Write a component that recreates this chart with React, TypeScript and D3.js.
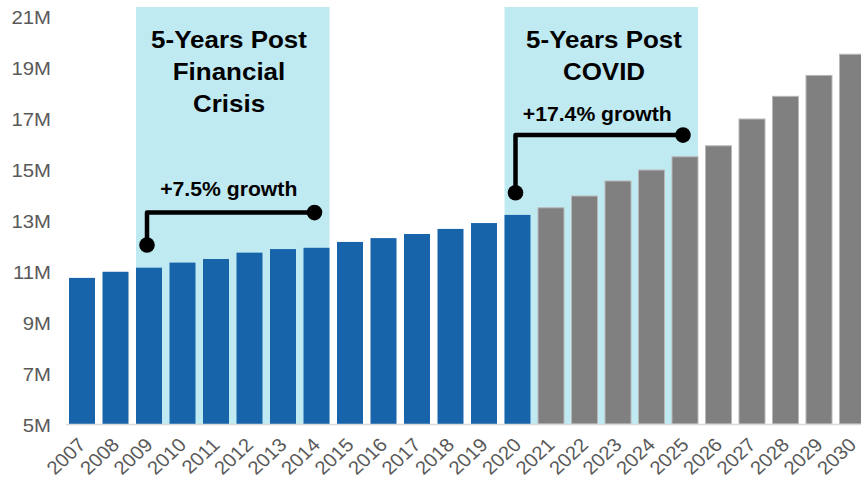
import React from "react";
import * as d3 from "d3";

// Annual totals, in millions
const years = [
  "2007", "2008", "2009", "2010", "2011", "2012", "2013", "2014",
  "2015", "2016", "2017", "2018", "2019", "2020", "2021", "2022",
  "2023", "2024", "2025", "2026", "2027", "2028", "2029", "2030",
];
const values = [
  10.73, 10.97, 11.13, 11.33, 11.47, 11.72, 11.86, 11.91,
  12.14, 12.29, 12.45, 12.65, 12.88, 13.2, 13.48, 13.94,
  14.53, 14.96, 15.48, 15.91, 16.96, 17.85, 18.67, 19.5,
];
// Last year of reported figures; later years are projections
const lastActualYear = "2020";

const yTicks = [5, 7, 9, 11, 13, 15, 17, 19, 21];

// Highlighted periods: shaded span, heading lines, growth bracket
const periodStart = ["2009", "2020"];
const periodEnd = ["2014", "2025"];
const periodTitles = [
  ["5-Years Post", "Financial", "Crisis"],
  ["5-Years Post", "COVID"],
];
const growthLabels = ["+7.5% growth", "+17.4% growth"];
// Bracket levels (in millions): start dot, horizontal run, label baseline
const bracketStart = [12.02, 14.07];
const bracketLevel = [13.29, 16.33];
const labelLevel = [13.94, 16.88];

const W = 861;
const H = 482;
const FONT = "'Liberation Sans', Arial, Helvetica, sans-serif";
const BLUE = "#1764ab";
const GREY = "#808080";
const SHADE = "#c0eaf1";
const AXIS_TEXT = "#595959";

export default function App() {
  const x = d3
    .scaleBand<string>()
    .domain(years)
    .range([65.25, 869.25])
    .paddingInner(0.224)
    .paddingOuter(0.112);
  const y = d3.scaleLinear().domain([5, 21]).range([424, 16]);
  const bw = x.bandwidth();
  const cx = (yr: string) => (x(yr) as number) + bw / 2;
  const actualIdx = years.indexOf(lastActualYear);

  return (
    <svg
      width={W}
      height={H}
      style={{ position: "absolute", left: 0, top: 0, display: "block", overflow: "hidden" }}
      fontFamily={FONT}
    >
      <rect width={W} height={H} fill="#ffffff" />

      {/* shaded periods */}
      {periodStart.map((s, i) => {
        const x0 = x(s) as number;
        const x1 = (x(periodEnd[i]) as number) + bw;
        return (
          <rect key={"shade" + i} x={x0} y={7} width={x1 - x0} height={y(5) - 7} fill={SHADE} />
        );
      })}

      {/* bars */}
      {years.map((yr, i) => {
        const projected = i > actualIdx;
        return (
          <rect
            key={yr}
            x={x(yr)}
            y={y(values[i])}
            width={bw}
            height={y(5) - y(values[i])}
            fill={projected ? GREY : BLUE}
            stroke={projected ? "#b8b8b8" : "none"}
            strokeWidth={projected ? 1 : 0}
          />
        );
      })}

      {/* baseline */}
      <line x1={66} x2={W} y1={y(5) + 0.5} y2={y(5) + 0.5} stroke="#d9d9d9" strokeWidth={1.5} />

      {/* y axis labels */}
      {yTicks.map((t) => (
        <text
          key={t}
          transform={`translate(51,${y(t) + 2.5}) scale(1.07,1)`}
          textAnchor="end"
          dominantBaseline="middle"
          fontSize={19}
          fill={AXIS_TEXT}
        >
          {t}M
        </text>
      ))}

      {/* x axis labels */}
      {years.map((yr) => (
        <text
          key={"xl" + yr}
          transform={`translate(${cx(yr) + 5},${446}) scale(1.07,1) rotate(-45)`}
          textAnchor="end"
          fontSize={19}
          fill={AXIS_TEXT}
        >
          {yr}
        </text>
      ))}

      {/* period headings */}
      {periodTitles.map((lines, i) => {
        const mid = i === 0 ? 229 : 604;
        return lines.map((ln, j) => (
          <text
            key={"t" + i + j}
            transform={`translate(${mid},${47.5 + j * 32}) scale(1.06,1)`}
            textAnchor="middle"
            fontSize={24.5}
            fontWeight="bold"
            fill="#000"
          >
            {ln}
          </text>
        ));
      })}

      {/* growth brackets */}
      {periodStart.map((s, i) => {
        const xa = cx(s) - 2;
        const xb = cx(periodEnd[i]) - 2;
        const ya = y(bracketStart[i]);
        const yb = y(bracketLevel[i]);
        const path = d3.path();
        path.moveTo(xa, ya);
        path.lineTo(xa, yb);
        path.lineTo(xb, yb);
        return (
          <g key={"br" + i}>
            <path
              d={path.toString()}
              fill="none"
              stroke="#000"
              strokeWidth={4.5}
              strokeLinejoin="round"
            />
            <circle cx={xa} cy={ya} r={7.8} fill="#000" />
            <circle cx={xb} cy={yb} r={7.8} fill="#000" />
            <text
              transform={`translate(${(xa + xb) / 2 - 2},${y(labelLevel[i])}) scale(1.06,1)`}
              textAnchor="middle"
              fontSize={20}
              fontWeight="bold"
              fill="#000"
            >
              {growthLabels[i]}
            </text>
          </g>
        );
      })}
    </svg>
  );
}
